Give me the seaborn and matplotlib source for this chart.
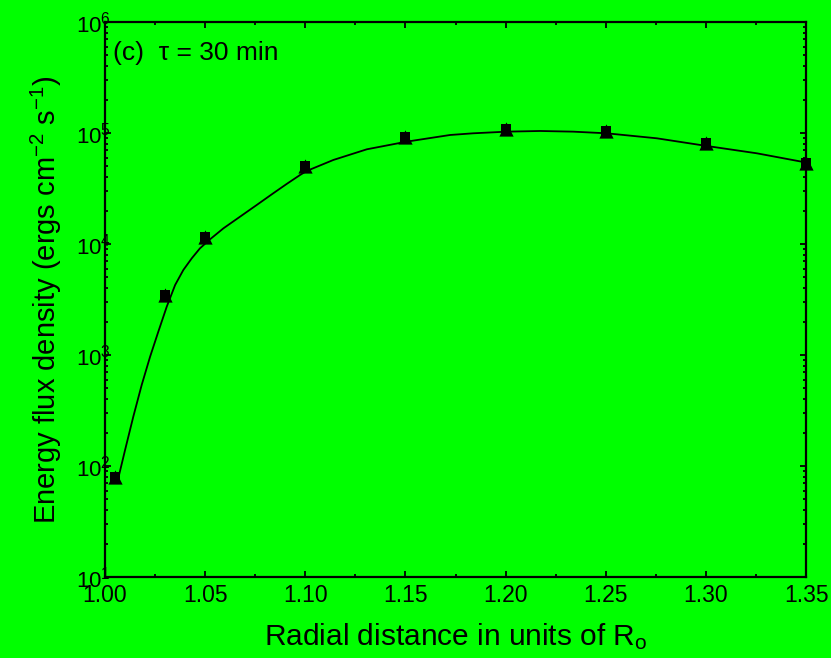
import matplotlib
matplotlib.use("Agg")
import matplotlib.pyplot as plt
import matplotlib.ticker as mticker
import numpy as np
import pandas as pd
import seaborn as sns

# Measured energy flux density at tau = 30 min
radius = [1.005, 1.03, 1.05, 1.10, 1.15, 1.20, 1.25, 1.30, 1.35]
flux = [80, 3470, 11560, 50400, 91400, 108600, 104000, 81800, 54000]

# Fitted curve through the measurements (log10 of flux)
fit_radius = [1.0066, 1.0100, 1.0141, 1.0183, 1.0225, 1.0266, 1.0308, 1.0350,
              1.0391, 1.0433, 1.0474, 1.0524, 1.0591, 1.0674, 1.0757, 1.0840,
              1.0907, 1.0974, 1.1007, 1.1140, 1.1307, 1.1506, 1.1723, 1.1837,
              1.2006, 1.2172, 1.2337, 1.2505, 1.2755, 1.3004, 1.3254, 1.3500]
fit_log_flux = [1.889, 2.144, 2.444, 2.730, 2.985, 3.210, 3.435, 3.631,
                3.766, 3.871, 3.961, 4.042, 4.141, 4.246, 4.351, 4.457,
                4.541, 4.622, 4.658, 4.757, 4.853, 4.922, 4.982, 4.997,
                5.012, 5.018, 5.012, 4.997, 4.952, 4.883, 4.817, 4.734]

x_ticks = [1.00, 1.05, 1.10, 1.15, 1.20, 1.25, 1.30, 1.35]
y_ticks = [1e1, 1e2, 1e3, 1e4, 1e5, 1e6]

GREEN = "#00ff00"
sns.set_theme(style="ticks", rc={
    "figure.facecolor": GREEN,
    "axes.facecolor": GREEN,
    "axes.edgecolor": "black",
    "axes.linewidth": 1.6,
    "axes.labelcolor": "black",
    "text.color": "black",
    "xtick.color": "black",
    "ytick.color": "black",
    "xtick.direction": "in",
    "ytick.direction": "in",
})
plt.rcParams["font.family"] = ["Liberation Sans", "DejaVu Sans"]
plt.rcParams["mathtext.fontset"] = "custom"
plt.rcParams["mathtext.rm"] = "Liberation Sans"
plt.rcParams["mathtext.it"] = "Liberation Sans"
plt.rcParams["mathtext.default"] = "regular"

fig = plt.figure(figsize=(8.31, 6.58), dpi=100)
ax = fig.add_axes([0.1264, 0.1231, 0.8436, 0.8435])

fit_df = pd.DataFrame({"r": fit_radius, "f": np.power(10.0, fit_log_flux)})
pts_df = pd.DataFrame({"r": radius, "f": flux})

sns.lineplot(data=fit_df, x="r", y="f", ax=ax, color="black", linewidth=1.3,
             sort=True, estimator=None)
# Overlaid triangle and square symbols
sns.scatterplot(data=pts_df, x="r", y="f", ax=ax, marker="^", s=105,
                color="black", edgecolor="black", linewidth=0, zorder=5,
                clip_on=False)
sns.scatterplot(data=pts_df, x="r", y="f", ax=ax, marker="s", s=52,
                color="black", edgecolor="black", linewidth=0, zorder=6,
                clip_on=False)

ax.set_yscale("log")
ax.set_xlim(1.00, 1.35)
ax.set_ylim(1e1, 1e6)
ax.set_xticks(x_ticks)
ax.xaxis.set_major_formatter(mticker.FormatStrFormatter("%.2f"))
ax.xaxis.set_minor_locator(mticker.MultipleLocator(0.025))
ax.set_yticks(y_ticks)
ax.yaxis.set_major_formatter(mticker.LogFormatterSciNotation())
ax.yaxis.set_minor_locator(mticker.LogLocator(base=10, subs=np.arange(2, 10)))
ax.yaxis.set_minor_formatter(mticker.NullFormatter())

ax.tick_params(which="both", top=True, right=True, direction="in",
               color="black", width=1.3)
ax.tick_params(which="major", length=4)
ax.tick_params(which="minor", length=2.5)
ax.tick_params(axis="x", which="major", labelsize=16.5, pad=5)
ax.tick_params(axis="y", which="major", labelsize=16, pad=-4)

ax.set_xlabel(r"Radial distance in units of R$_o$", fontsize=21.5, labelpad=10)
ax.set_ylabel(r"Energy flux density (ergs cm$^{-2}$ s$^{-1}$)",
              fontsize=21, labelpad=8)

ax.text(0.012, 0.945, "(c)  \u03c4 = 30 min", transform=ax.transAxes,
        fontsize=19, ha="left", va="center")

for s in ax.spines.values():
    s.set_visible(True)
    s.set_linewidth(1.6)

fig.savefig("out.png", dpi=100, facecolor=GREEN)
